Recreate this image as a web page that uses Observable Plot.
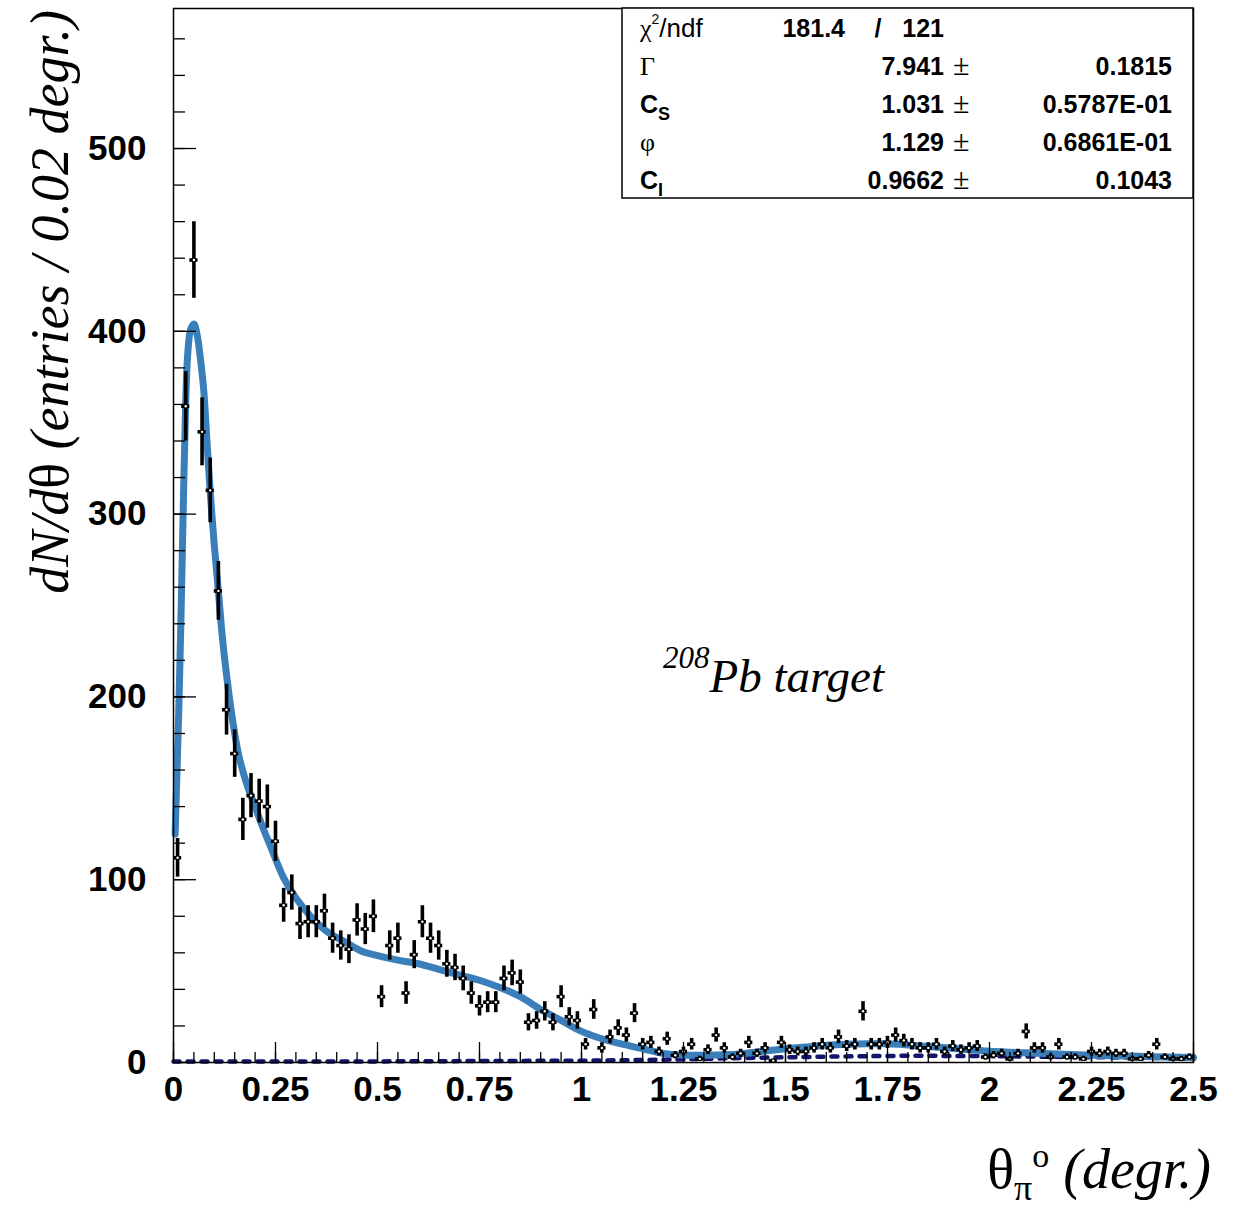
<!DOCTYPE html>
<html><head><meta charset="utf-8">
<script src="https://cdn.jsdelivr.net/npm/d3@7"></script>
<script src="https://cdn.jsdelivr.net/npm/@observablehq/plot@0.6"></script>
<style>
body{margin:0;background:#fff}
svg{font-family:"Liberation Sans",Arial,sans-serif}
</style>
</head><body><div id="chart"></div>
<script>
// ---- data ----
const binWidth = 0.02; // degrees per bin, bins start at 0
const counts = [
 112,359,439,345,313,258,193,169,133,146,
 143,140,121,86,93,76,77,77,83,68,
 64,62,78,73,80,36,64,68,38,59,
 77,68,64,54,52,46,38,31,33,33,
 46,49,44,22,23,28,22,36,25,23,
 10,29,8,14,19,15,27,10,11,6,
 13,4,6,10,2,7,15,8,3,5,
 11,5,8,1,11,7,6,6,8,10,
 8,14,9,10,28,10,10,11,15,12,
 10,8,8,10,6,9,7,8,9,3,
 4,5,2,5,17,8,8,3,10,3,
 3,2,6,5,6,5,5,2,2,4,
 10,3,2,2,3
];
const fitX = [0.004,0.008,0.013,0.018,0.025,0.03,0.035,0.042,0.05,0.058,0.066,0.074,0.082,0.09,0.10,0.11,0.12,0.13,0.145,0.16,0.18,0.20,0.22,0.24,0.27,0.30,0.34,0.38,0.42,0.46,0.50,0.55,0.60,0.65,0.70,0.75,0.80,0.85,0.90,0.95,1.00,1.05,1.10,1.15,1.20,1.25,1.30,1.35,1.40,1.45,1.50,1.55,1.60,1.65,1.70,1.75,1.80,1.85,1.90,1.95,2.00,2.10,2.20,2.30,2.40,2.50];
const fitY = [125,155,193,240,315,362,388,401,404,398,385,368,340,312,283,258,232,212,187,168,152,140,128,117,101,90,79,71,66,61,58.5,56,54,51,48,45,41,36,29,23,17,13,10,7.5,5,4,4,4.2,5,6.3,7.5,8.5,9.4,10,10.3,10.2,9.6,8.8,7.9,7,6.2,5.2,4.4,3.7,3.2,2.7];
const bgX = [0,0.5,1.0,1.2,1.4,1.6,1.8,2.0,2.2,2.5];
const bgY = [0.5,0.6,1.0,1.5,2.5,3.2,3.7,3.5,3.0,2.3];
const xMajorTicks = [0,0.25,0.5,0.75,1,1.25,1.5,1.75,2,2.25,2.5];
const xMinorTicks = d3.range(0, 2.5001, 0.05);
const yMajorTicks = [0,100,200,300,400,500];
const yMinorTicks = d3.range(0, 570, 20);
const statsValues = ["7.941","1.031","1.129","0.9662"];
const statsErrors = ["0.1815","0.5787E-01","0.6861E-01","0.1043"];
const chi2 = "181.4", ndf = "121";

// ---- tables ----
const bins = counts.map((v, i) => ({x: (i + 0.5) * binWidth, v}));
const fit = fitX.map((x, i) => ({x, y: fitY[i]}));
const bg = bgX.map((x, i) => ({x, y: bgY[i]}));

const plot = Plot.plot({
  width: 1235, height: 1207,
  marginLeft: 173, marginRight: 42, marginTop: 8, marginBottom: 145,
  x: {domain: [0, 2.5]},
  y: {domain: [0, 576.6]},
  style: {fontFamily: "Liberation Sans, Arial, sans-serif", background: "white", overflow: "visible"},
  marks: [
    Plot.line(bg, {x: "x", y: "y", stroke: "#14146e", strokeWidth: 4.5, strokeDasharray: "6,8"}),
    Plot.line(fit, {x: "x", y: "y", stroke: "#3a7fba", strokeWidth: 7, curve: "catmull-rom"}),
    Plot.ruleX(bins, {x: "x", y1: d => d.v - Math.sqrt(d.v), y2: d => d.v + Math.sqrt(d.v), stroke: "black", strokeWidth: 3.6}),
    Plot.ruleY(bins, {y: "v", x1: d => d.x - binWidth / 2, x2: d => d.x + binWidth / 2, stroke: "black", strokeWidth: 3.6}),
    Plot.dot(bins, {x: "x", y: "v", r: 1.2, fill: "white"}),
    Plot.axisY({ticks: yMajorTicks, tickSize: -23, tickFormat: () => "", label: null, strokeWidth: 1.3}),
    Plot.axisY({ticks: yMinorTicks, tickSize: -12, tickFormat: () => "", label: null, strokeWidth: 1.3}),
    Plot.axisY({ticks: yMajorTicks, tickSize: 0, tickPadding: 27, fontSize: 35, fontWeight: "bold", label: null, fill: "black"}),
    Plot.axisX({ticks: xMajorTicks, tickSize: -20, tickFormat: () => "", label: null, strokeWidth: 1.3}),
    Plot.axisX({ticks: xMinorTicks, tickSize: -10, tickFormat: () => "", label: null, strokeWidth: 1.3}),
    Plot.axisX({ticks: xMajorTicks, tickSize: 0, tickPadding: 14, fontSize: 35, fontWeight: "bold", label: null, fill: "black", tickFormat: d => String(d)}),
    Plot.frame({stroke: "black", strokeWidth: 1.5})
  ]
});
document.getElementById("chart").appendChild(plot);

// ---- rich text (titles, stats box, annotation) ----
const svg = d3.select(plot);
const g = svg.append("g").attr("fill", "black").attr("text-anchor", "start");
const serif = "Liberation Serif, Times New Roman, serif";
const sans = "Liberation Sans, Arial, sans-serif";

// y title
const yt = g.append("text")
  .attr("transform", "translate(68,10) rotate(-90)")
  .attr("text-anchor", "end").attr("font-family", serif).attr("font-size", 54).attr("font-style", "italic");
yt.append("tspan").text("dN/d");
yt.append("tspan").attr("font-style", "normal").text("θ");
yt.append("tspan").text(" (entries / 0.02 degr.)");

// x title
const xt = g.append("text").attr("x", 1211).attr("y", 1188).attr("text-anchor", "end")
  .attr("font-family", serif).attr("font-size", 56);
xt.append("tspan").text("θ");
xt.append("tspan").attr("dy", 12).attr("font-size", 36).text("π");
xt.append("tspan").attr("dy", -33).attr("font-size", 34).text("o");
xt.append("tspan").attr("dy", 21).attr("font-style", "italic").text(" (degr.)");

// annotation
const an = g.append("text").attr("x", 663).attr("y", 668).attr("font-family", serif).attr("font-style", "italic");
an.append("tspan").attr("font-size", 31).text("208");
an.append("tspan").attr("dy", 24).attr("font-size", 47).text("Pb target");

// stats box
g.append("rect").attr("x", 622).attr("y", 8).attr("width", 571).attr("height", 190)
  .attr("fill", "white").attr("stroke", "black").attr("stroke-width", 1.5);
const rowY = [37, 75, 113, 151, 189];
// row 0: chi2/ndf
const c0 = g.append("text").attr("x", 640).attr("y", rowY[0]).attr("font-size", 26).attr("font-family", sans).attr("font-weight", 300);
c0.append("tspan").attr("font-family", serif).text("χ");
c0.append("tspan").attr("font-size", 14).attr("dy", -13).text("2");
c0.append("tspan").attr("dy", 13).text("/ndf");
g.append("text").attr("x", 845).attr("y", rowY[0]).attr("text-anchor", "end").attr("font-size", 25).attr("font-weight", "bold").text(chi2);
g.append("text").attr("x", 878).attr("y", rowY[0]).attr("text-anchor", "middle").attr("font-size", 25).attr("font-weight", "bold").text("/");
g.append("text").attr("x", 944).attr("y", rowY[0]).attr("text-anchor", "end").attr("font-size", 25).attr("font-weight", "bold").text(ndf);
// labels
g.append("text").attr("x", 640).attr("y", rowY[1]).attr("font-size", 26).attr("font-family", serif).text("Γ");
const cs = g.append("text").attr("x", 640).attr("y", rowY[2]).attr("font-size", 25).attr("font-weight", "bold");
cs.append("tspan").text("C"); cs.append("tspan").attr("font-size", 18).attr("dy", 7).text("S");
g.append("text").attr("x", 640).attr("y", rowY[3]).attr("font-size", 26).attr("font-family", serif).text("φ");
const ci = g.append("text").attr("x", 640).attr("y", rowY[4]).attr("font-size", 25).attr("font-weight", "bold");
ci.append("tspan").text("C"); ci.append("tspan").attr("font-size", 18).attr("dy", 7).text("I");
statsValues.forEach((v, i) => {
  const y = rowY[i + 1];
  g.append("text").attr("x", 944).attr("y", y).attr("text-anchor", "end").attr("font-size", 25).attr("font-weight", "bold").text(v);
  g.append("text").attr("x", 953).attr("y", y).attr("font-size", 30).attr("font-family", serif).attr("font-weight", 300).text("±");
  g.append("text").attr("x", 1172).attr("y", y).attr("text-anchor", "end").attr("font-size", 25).attr("font-weight", "bold").text(statsErrors[i]);
});
</script>
</body></html>
